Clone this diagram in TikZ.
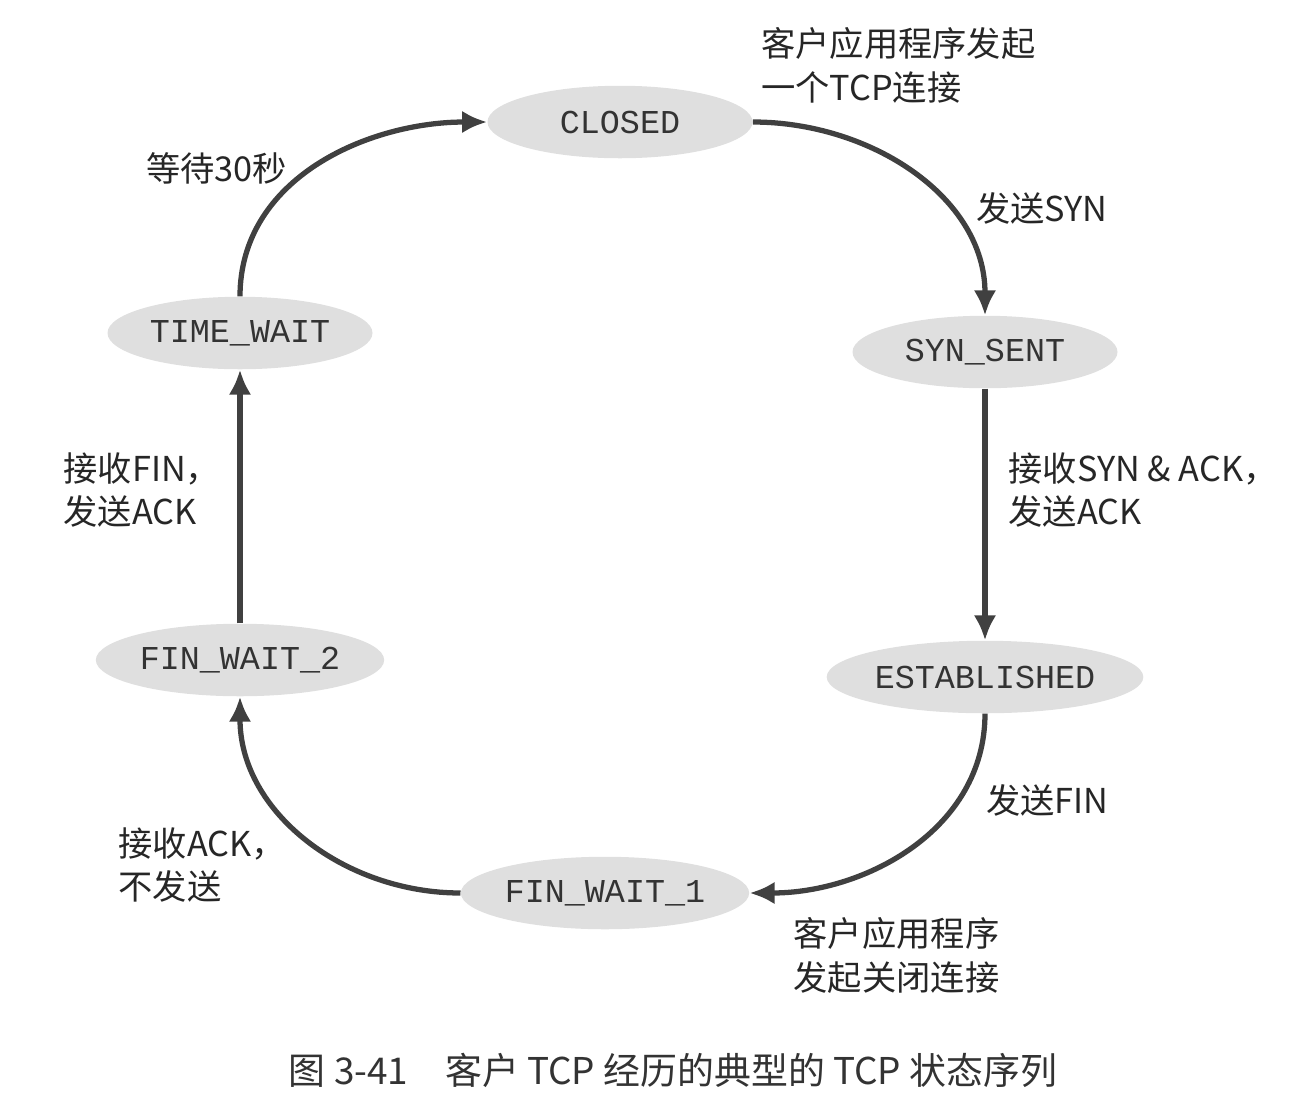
\documentclass[tikz,border=0pt]{standalone}
\usepackage{fontspec}
\setmainfont{Noto Sans CJK SC}
\newfontfamily\statefont{Liberation Mono}
\newfontfamily\cjk{Noto Sans CJK SC}
\usetikzlibrary{shapes.geometric,arrows.meta}
\begin{document}
\begin{tikzpicture}[
    state/.style={draw=none, ellipse, fill=gray!25, minimum width=5.3cm, minimum height=1.45cm,
                  inner xsep=1pt, font=\statefont\fontsize{19}{19}\selectfont, text=black!80},
    trans/.style={line width=3pt, draw=black!75, -{Latex[length=5mm,width=4.5mm]}},
    lbl/.style={align=left, anchor=west, font=\cjk\fontsize{19.5}{25}\selectfont, text=black!85}
  ]
  \useasboundingbox (0,0) rectangle (26.2,-22.36);
  % the states
  \node[state] (closed) at (12.4,-2.44) {CLOSED};
  \node[state] (synsent) at (19.7,-7.04) {SYN\_SENT};
  \node[state] (estab) at (19.7,-13.54) {ESTABLISHED};
  \node[state] (fw1) at (12.1,-17.86) {FIN\_WAIT\_1};
  \node[state] (fw2) at (4.8,-13.2) {FIN\_WAIT\_2};
  \node[state] (tw) at (4.8,-6.66) {TIME\_WAIT};

  % the transitions
  \draw[trans] (closed.east) to[out=0,in=90] (synsent.north);
  \draw[trans] (synsent.south) -- (estab.north);
  \draw[trans] (estab.south) to[out=-90,in=0] (fw1.east);
  \draw[trans] (fw1.west) to[out=180,in=-90] (fw2.south);
  \draw[trans] (fw2.north) -- (tw.south);
  \draw[trans] (tw.north) to[out=90,in=180] (closed.west);

  % labels
  \node[lbl] (l1) at (15.1,-1.3) {客户应用程序发起\\一个TCP连接};
  \node[lbl] (l2) at (19.4,-4.16) {发送SYN};
  \node[lbl] (l3) at (20.05,-9.8) {接收SYN \& ACK，\\发送ACK};
  \node[lbl] (l4) at (19.6,-16.0) {发送FIN};
  \node[lbl] (l5) at (15.75,-19.1) {客户应用程序\\发起关闭连接};
  \node[lbl] (l6) at (2.25,-17.3) {接收ACK，\\不发送};
  \node[lbl] (l7) at (1.15,-9.8) {接收FIN，\\发送ACK};
  \node[lbl] (l8) at (2.8,-3.36) {等待30秒};
  \node[font=\cjk\fontsize{21}{24}\selectfont, text=black!80] (cap) at (13.46,-21.4)
    {图 3-41\quad 客户 TCP 经历的典型的 TCP 状态序列};
\end{tikzpicture}
\end{document}
